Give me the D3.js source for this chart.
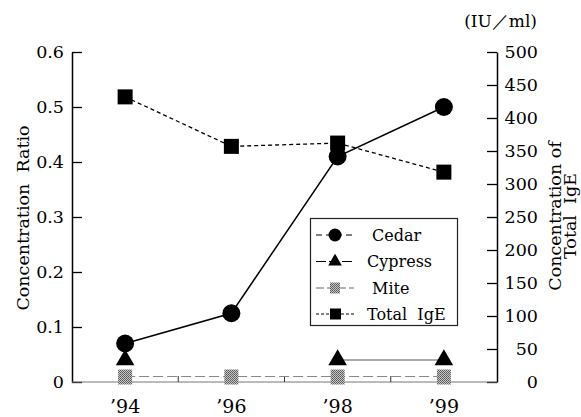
<!DOCTYPE html>
<html>
<head>
<meta charset="utf-8">
<script src="https://cdn.jsdelivr.net/npm/d3@7"></script>
<style>
  html, body { margin: 0; padding: 0; background: #fff; }
  svg { display: block; }
  text { font-family: "DejaVu Serif", "Liberation Serif", serif; fill: #000; }
</style>
</head>
<body>
<svg id="chart" width="581" height="417"></svg>
<script>
// ---- data ----
const years = ["’94", "’96", "’98", "’99"];
const cedar = [0.07, 0.125, 0.41, 0.50];
const cypress = [0.04, null, 0.04, 0.04];
const mite = [0.01, 0.01, 0.01, 0.01];
const totalIgE = [432, 357, 362, 318];
const leftTicks = [0, 0.1, 0.2, 0.3, 0.4, 0.5, 0.6];
const rightTicks = [0, 50, 100, 150, 200, 250, 300, 350, 400, 450, 500];
const seriesNames = ["Cedar", "Cypress", "Mite", "Total  IgE"];

const svg = d3.select("#chart");

// pattern for the dithered grey mite marker
const defs = svg.append("defs");
const pat = defs.append("pattern").attr("id", "dither")
  .attr("width", 2).attr("height", 2).attr("patternUnits", "userSpaceOnUse");
pat.append("rect").attr("width", 2).attr("height", 2).attr("fill", "#c8c8c8");
pat.append("rect").attr("width", 1).attr("height", 1).attr("fill", "#555");
pat.append("rect").attr("x", 1).attr("y", 1).attr("width", 1).attr("height", 1).attr("fill", "#666");

const x = d3.scaleBand().domain(years).range([72, 497]);
const cx = d => x(d) + x.bandwidth() / 2;
const yL = d3.scaleLinear().domain([0, 0.6]).range([382, 52]);
const yR = d3.scaleLinear().domain([0, 500]).range([382, 52]);

// ---- axes ----
const leftAxis = d3.axisLeft(yL).tickValues(leftTicks)
  .tickFormat(d => d === 0 ? "0" : d3.format(".1f")(d))
  .tickSizeInner(-10).tickSizeOuter(0).tickPadding(8);
const gL = svg.append("g").attr("transform", "translate(72,0)").call(leftAxis);
gL.select(".domain").attr("stroke", "#000").attr("stroke-width", 1.5);
gL.selectAll(".tick line").attr("stroke", "#000").attr("stroke-width", 1.3);
gL.selectAll(".tick text").style("font-size", "17.5px").attr("fill", "#000")
  .attr("font-family", null);

const rightAxis = d3.axisRight(yR).tickValues(rightTicks)
  .tickSizeInner(-10).tickSizeOuter(0).tickPadding(8);
const gR = svg.append("g").attr("transform", "translate(497,0)").call(rightAxis);
gR.select(".domain").attr("stroke", "#000").attr("stroke-width", 1.5);
gR.selectAll(".tick line").attr("stroke", "#000").attr("stroke-width", 1.3);
gR.selectAll(".tick text").style("font-size", "17.5px").attr("fill", "#000")
  .attr("text-anchor", "end").attr("x", 41).attr("font-family", null);

// bottom axis
const bottomAxis = d3.axisBottom(x).tickSize(0).tickPadding(18);
const gB = svg.append("g").attr("transform", "translate(0,382)").call(bottomAxis);
gB.select(".domain").remove();
gB.selectAll(".tick text").style("font-size", "19px").attr("fill", "#000")
  .attr("font-family", null);
svg.append("line").attr("x1", 72).attr("x2", 497).attr("y1", 382).attr("y2", 382)
  .attr("stroke", "#777").attr("stroke-width", 1);
svg.selectAll(".xsep").data(years.slice(1)).enter().append("line")
  .attr("class", "xsep")
  .attr("x1", d => x(d)).attr("x2", d => x(d))
  .attr("y1", 382).attr("y2", 376)
  .attr("stroke", "#333").attr("stroke-width", 1);

// axis titles
svg.append("text")
  .attr("transform", "translate(29,218) rotate(-90)")
  .attr("text-anchor", "middle").style("font-size", "17.5px")
  .attr("xml:space", "preserve")
  .text("Concentration  Ratio");
svg.append("text")
  .attr("transform", "translate(561,216) rotate(-90)")
  .attr("text-anchor", "middle").style("font-size", "17.5px")
  .text("Concentration of");
svg.append("text")
  .attr("transform", "translate(576,216) rotate(-90)")
  .attr("text-anchor", "middle").style("font-size", "17.5px")
  .attr("xml:space", "preserve")
  .text("Total  IgE");
svg.append("text")
  .attr("x", 537).attr("y", 27).attr("text-anchor", "end")
  .style("font-size", "17px")
  .text("(IU／ml)");

// ---- lines ----
const lineL = d3.line().defined(d => d.v !== null).x(d => cx(d.k)).y(d => yL(d.v));
const lineR = d3.line().x(d => cx(d.k)).y(d => yR(d.v));
const zip = arr => years.map((k, i) => ({ k, v: arr[i] }));

svg.append("path").datum(zip(mite)).attr("d", lineL)
  .attr("fill", "none").attr("stroke", "#888").attr("stroke-width", 1)
  .attr("stroke-dasharray", "10,4");
svg.append("path").datum(zip(cypress)).attr("d", lineL)
  .attr("fill", "none").attr("stroke", "#555").attr("stroke-width", 1);
svg.append("path").datum(zip(totalIgE)).attr("d", lineR)
  .attr("fill", "none").attr("stroke", "#000").attr("stroke-width", 1.3)
  .attr("stroke-dasharray", "4,3");
svg.append("path").datum(zip(cedar)).attr("d", lineL)
  .attr("fill", "none").attr("stroke", "#000").attr("stroke-width", 1.5);

// ---- markers ----
const triangle = d3.symbol().type(d3.symbolTriangle).size(150);
function drawMarker(g, type, px, py) {
  if (type === "circle") {
    g.append("circle").attr("cx", px).attr("cy", py).attr("r", 9).attr("fill", "#000");
  } else if (type === "triangle") {
    g.append("path").attr("d", triangle).attr("transform", `translate(${px},${py})`)
      .attr("fill", "#000");
  } else if (type === "mite") {
    g.append("rect").attr("x", px - 7).attr("y", py - 7).attr("width", 14).attr("height", 15)
      .attr("fill", "url(#dither)");
  } else if (type === "square") {
    g.append("rect").attr("x", px - 7.5).attr("y", py - 7.5).attr("width", 15).attr("height", 15)
      .attr("fill", "#000");
  }
}
const gm = svg.append("g");
zip(mite).forEach(d => drawMarker(gm, "mite", cx(d.k), yL(d.v)));
zip(cypress).filter(d => d.v !== null).forEach(d => drawMarker(gm, "triangle", cx(d.k), yL(d.v)));
zip(totalIgE).forEach(d => drawMarker(gm, "square", cx(d.k), yR(d.v)));
zip(cedar).forEach(d => drawMarker(gm, "circle", cx(d.k), yL(d.v)));

// ---- legend ----
const leg = svg.append("g");
leg.append("rect").attr("x", 310.5).attr("y", 218.5).attr("width", 147).attr("height", 107)
  .attr("fill", "#fff").attr("stroke", "#222").attr("stroke-width", 1.2);
const legTypes = ["circle", "triangle", "mite", "square"];
const legDash = ["6,4", "10,3", "8,3", "3,2"];
const legTextX = [372, 367, 372, 367];
const legY = [235, 261.5, 288, 314];
seriesNames.forEach((name, i) => {
  const yy = legY[i];
  leg.append("line").attr("x1", 316).attr("x2", 354).attr("y1", yy).attr("y2", yy)
    .attr("stroke", i === 2 ? "#666" : "#000").attr("stroke-width", 1.2)
    .attr("stroke-dasharray", legDash[i]);
  const gi = leg.append("g");
  if (legTypes[i] === "circle") {
    gi.append("circle").attr("cx", 335).attr("cy", yy).attr("r", 6.5).attr("fill", "#000");
  } else if (legTypes[i] === "triangle") {
    gi.append("path").attr("d", d3.symbol().type(d3.symbolTriangle).size(80))
      .attr("transform", `translate(335,${yy})`).attr("fill", "#000");
  } else if (legTypes[i] === "mite") {
    gi.append("rect").attr("x", 330).attr("y", yy - 5.5).attr("width", 10).attr("height", 11)
      .attr("fill", "url(#dither)");
  } else {
    gi.append("rect").attr("x", 330).attr("y", yy - 5.5).attr("width", 11).attr("height", 11)
      .attr("fill", "#000");
  }
  leg.append("text").attr("x", legTextX[i]).attr("y", yy + 5.5)
    .attr("xml:space", "preserve")
    .style("font-size", "16px").text(name);
});
</script>
</body>
</html>
